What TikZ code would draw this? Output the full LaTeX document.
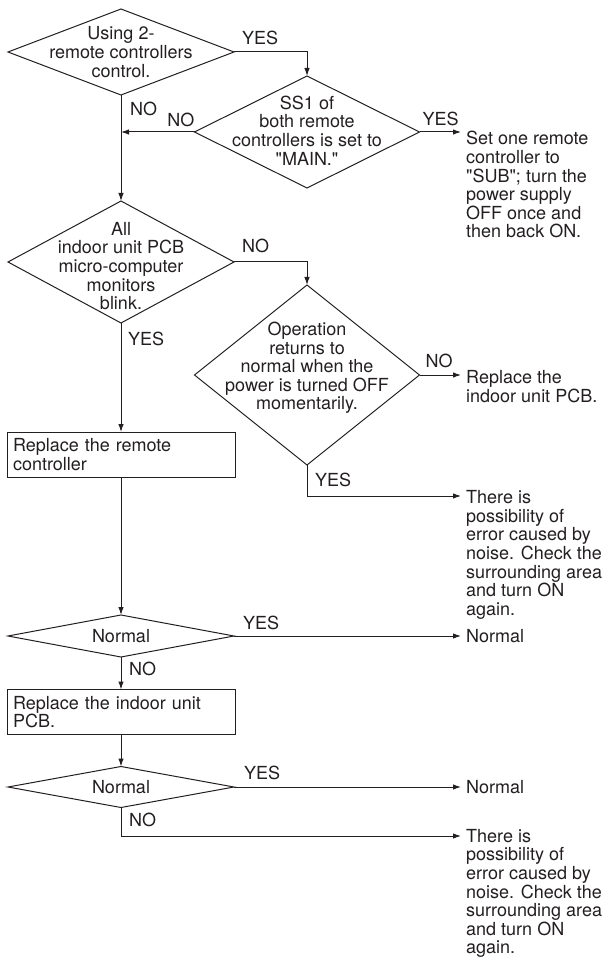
\documentclass[tikz,border=0pt]{standalone}
\usepackage{fontspec}
\setmainfont{TeX Gyre Heros}
\usepackage{tikz}
\usetikzlibrary{arrows.meta,positioning,shapes.geometric,calc}
\definecolor{flowink}{HTML}{231F20}

\begin{document}
\begin{tikzpicture}[x=1pt,y=-1pt,
    every node/.style={font=\fontsize{18}{18.6}\selectfont,text=flowink},
    dec/.style={diamond,draw=flowink,line width=1pt,inner sep=0pt,outer sep=0pt},
    dectext/.style={align=center,inner sep=0pt},
    box/.style={rectangle,draw=flowink,line width=1pt,outer sep=0pt,align=left,
        inner xsep=6pt,text width=216pt,minimum width=228pt,minimum height=45pt},
    arr/.style={-{Latex[length=8pt,width=5.5pt]},line width=1pt,draw=flowink},
    lbl/.style={inner sep=1pt},
    note/.style={align=left,anchor=north west,inner xsep=5pt,inner ysep=2pt}]
    \useasboundingbox (0,0) rectangle (611,957);

    \node[dec,minimum width=226pt,minimum height=86pt] (d1) at (121,52) {};
    \node[dectext] (d1t) at (d1) {Using 2-\\remote controllers\\control.};
    \node[dec,minimum width=225pt,minimum height=112pt] (d2) at (307,132) {};
    \node[dectext] (d2t) at ($(d2)+(0,-1.5)$) {SS1 of\\both remote\\controllers is set to\\\textquotedbl MAIN.\textquotedbl};
    \node[dec,minimum width=226pt,minimum height=122pt] (d3) at (121,262) {};
    \node[dectext] (d3t) at ($(d3)+(0,4)$) {All\\indoor unit PCB\\micro-computer\\monitors\\blink.};
    \node[dec,minimum width=225pt,minimum height=180pt] (d4) at (307,375) {};
    \node[dectext] (d4t) at ($(d4)+(0,-7)$) {Operation\\returns to\\normal when the\\power is turned OFF\\momentarily.};
    \node[box] (b1) at (121,454.5) {Replace the remote\\controller};
    \node[dec,minimum width=226pt,minimum height=42pt] (d5) at (121,636) {};
    \node[dectext] (d5t) at (d5) {Normal};
    \node[box] (b2) at (121,712) {Replace the indoor unit\\PCB.};
    \node[dec,minimum width=226pt,minimum height=41pt] (d6) at (121,787) {};
    \node[dectext] (d6t) at (d6) {Normal};

    \node[note] (t1) at (461,129.3) {Set one remote\\controller to\\\textquotedbl SUB\textquotedbl; turn the\\power supply\\OFF once and\\then back ON.};
    \node[note] (t2) at (461,368.3) {Replace the\\indoor unit PCB.};
    \node[note] (t3) at (461,488.3) {There is\\possibility of\\error caused by\\noise. Check the\\surrounding area\\and turn ON\\again.};
    \node[note,anchor=west] (t4) at (461,636) {Normal};
    \node[note,anchor=west] (t5) at (461,787) {Normal};
    \node[note] (t6) at (461,827) {There is\\possibility of\\error caused by\\noise. Check the\\surrounding area\\and turn ON\\again.};
    \coordinate (t3in) at (461,496);
    \coordinate (t6in) at (461,836);

    \draw[arr] (d1.east) -| (d2.north);
    \draw[arr] (d1.south) -- (d3.north);
    \draw[arr] (d2.west) -- (d2.west -| d1.south);
    \draw[arr] (d2.east) -- (d2.east -| t1.west);
    \draw[arr] (d3.east) -| (d4.north);
    \draw[arr] (d3.south) -- (b1.north);
    \draw[arr] (d4.east) -- (d4.east -| t2.west);
    \draw[arr] (d4.south) |- (t3in);
    \draw[arr] (b1.south) -- (d5.north);
    \draw[arr] (d5.east) -- (t4.west);
    \draw[arr] (d5.south) -- (b2.north);
    \draw[arr] (b2.south) -- (d6.north);
    \draw[arr] (d6.east) -- (t5.west);
    \draw[arr] (d6.south) |- (t6in);

    \node[lbl,anchor=south west] (y1) at ($(d1.east)+(7,-6)$) {YES};
    \node[lbl,anchor=north west] (n1) at ($(d1.south)+(8,6)$) {NO};
    \node[lbl,anchor=south east] (n2) at ($(d2.west)+(1,-4)$) {NO};
    \node[lbl,anchor=south west] (y2) at ($(d2.east)+(2,-5)$) {YES};
    \node[lbl,anchor=south west] (n3) at ($(d3.east)+(7,-8)$) {NO};
    \node[lbl,anchor=north west] (y3) at ($(d3.south)+(6,8)$) {YES};
    \node[lbl,anchor=south west] (n4) at ($(d4.east)+(5,-6)$) {NO};
    \node[lbl,anchor=north west] (y4) at ($(d4.south)+(7,7)$) {YES};
    \node[lbl,anchor=south west] (y5) at ($(d5.east)+(8,-5)$) {YES};
    \node[lbl,anchor=north west] (n5) at ($(d5.south)+(7,4)$) {NO};
    \node[lbl,anchor=south west] (y6) at ($(d6.east)+(9,-6)$) {YES};
    \node[lbl,anchor=north west] (n6) at ($(d6.south)+(7,4)$) {NO};
\end{tikzpicture}
\end{document}
